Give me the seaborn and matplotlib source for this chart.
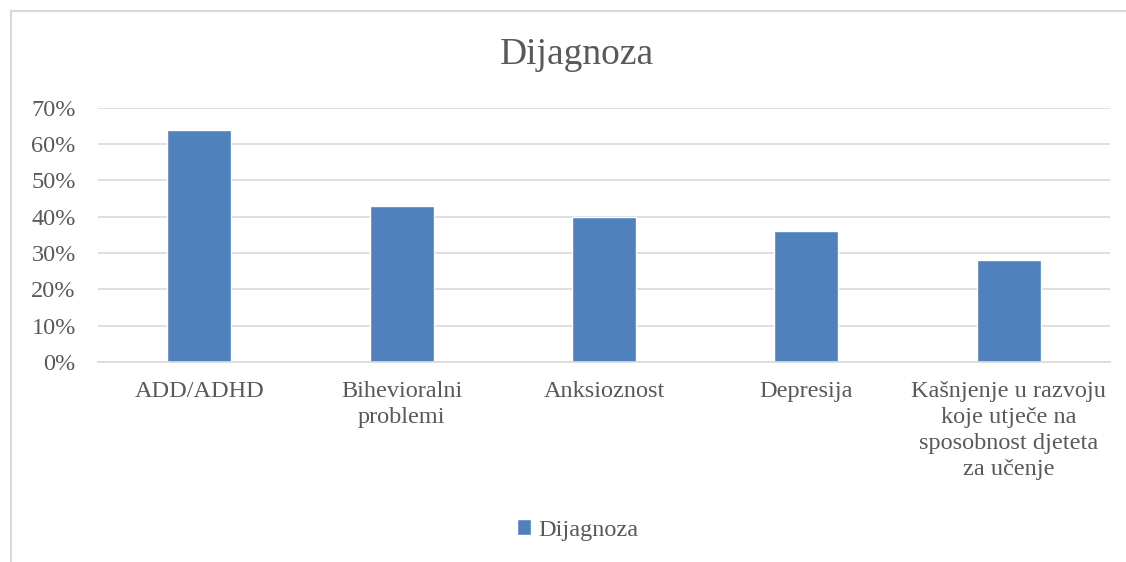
import pandas as pd
import seaborn as sns
import matplotlib.pyplot as plt
from matplotlib.patches import Rectangle
from matplotlib.ticker import PercentFormatter

categories = ["ADD/ADHD", "Bihevioralni\nproblemi", "Anksioznost", "Depresija",
              "Kašnjenje u razvoju\nkoje utječe na\nsposobnost djeteta\nza učenje"]
values = [0.64, 0.43, 0.40, 0.36, 0.28]
series_name = "Dijagnoza"

bar_color = '#4F81BD'
text_color = '#595959'
grid_color = '#D9D9D9'

db = pd.DataFrame({"kategorija": categories, "vrijednost": values})

sns.set_theme(style="white")
plt.rcParams['font.family'] = ['Liberation Serif', 'DejaVu Serif']

fig = plt.figure(figsize=(11.26, 5.62), dpi=100)
ax = fig.add_axes([0.087, 0.356, 0.8988, 0.452])

sns.barplot(x="kategorija", y="vrijednost", data=db, color=bar_color,
            width=0.316, saturation=1, errorbar=None, ax=ax, label=series_name)

ax.set_ylim(0, 0.7)
ax.set_yticks([i / 10 for i in range(8)])
ax.yaxis.set_major_formatter(PercentFormatter(1.0, decimals=0))
ax.set_xlim(-0.5, len(categories) - 0.5)
ax.grid(axis='y', color=grid_color, linewidth=1.2)
ax.set_axisbelow(True)
for s in ['top', 'right', 'left']:
    ax.spines[s].set_visible(False)
ax.spines['bottom'].set_color(grid_color)
ax.spines['bottom'].set_linewidth(1.2)
ax.tick_params(axis='both', length=0, colors=text_color, labelsize=17.5)
ax.tick_params(axis='y', pad=16)
ax.tick_params(axis='x', pad=14)
ax.set_xlabel("")
ax.set_ylabel("")
for lbl in ax.get_xticklabels():
    lbl.set_multialignment('center')
    lbl.set_linespacing(1.3)

ax.legend_.remove() if ax.legend_ else None
fig.legend(loc='center', bbox_to_anchor=(0.513, 0.057), frameon=False,
           fontsize=17.5, labelcolor=text_color, handlelength=0.6,
           handleheight=0.6, handletextpad=0.3)

fig.text(0.512, 0.902, "Dijagnoza", ha='center', va='center',
         fontsize=27, color=text_color)

fig.patches.append(Rectangle((11 / 1126, -0.1), 1.2, 1 - 11 / 562 + 0.1,
                             transform=fig.transFigure, fill=False,
                             edgecolor=grid_color, linewidth=1.5))

plt.savefig("out.png", dpi=100)
